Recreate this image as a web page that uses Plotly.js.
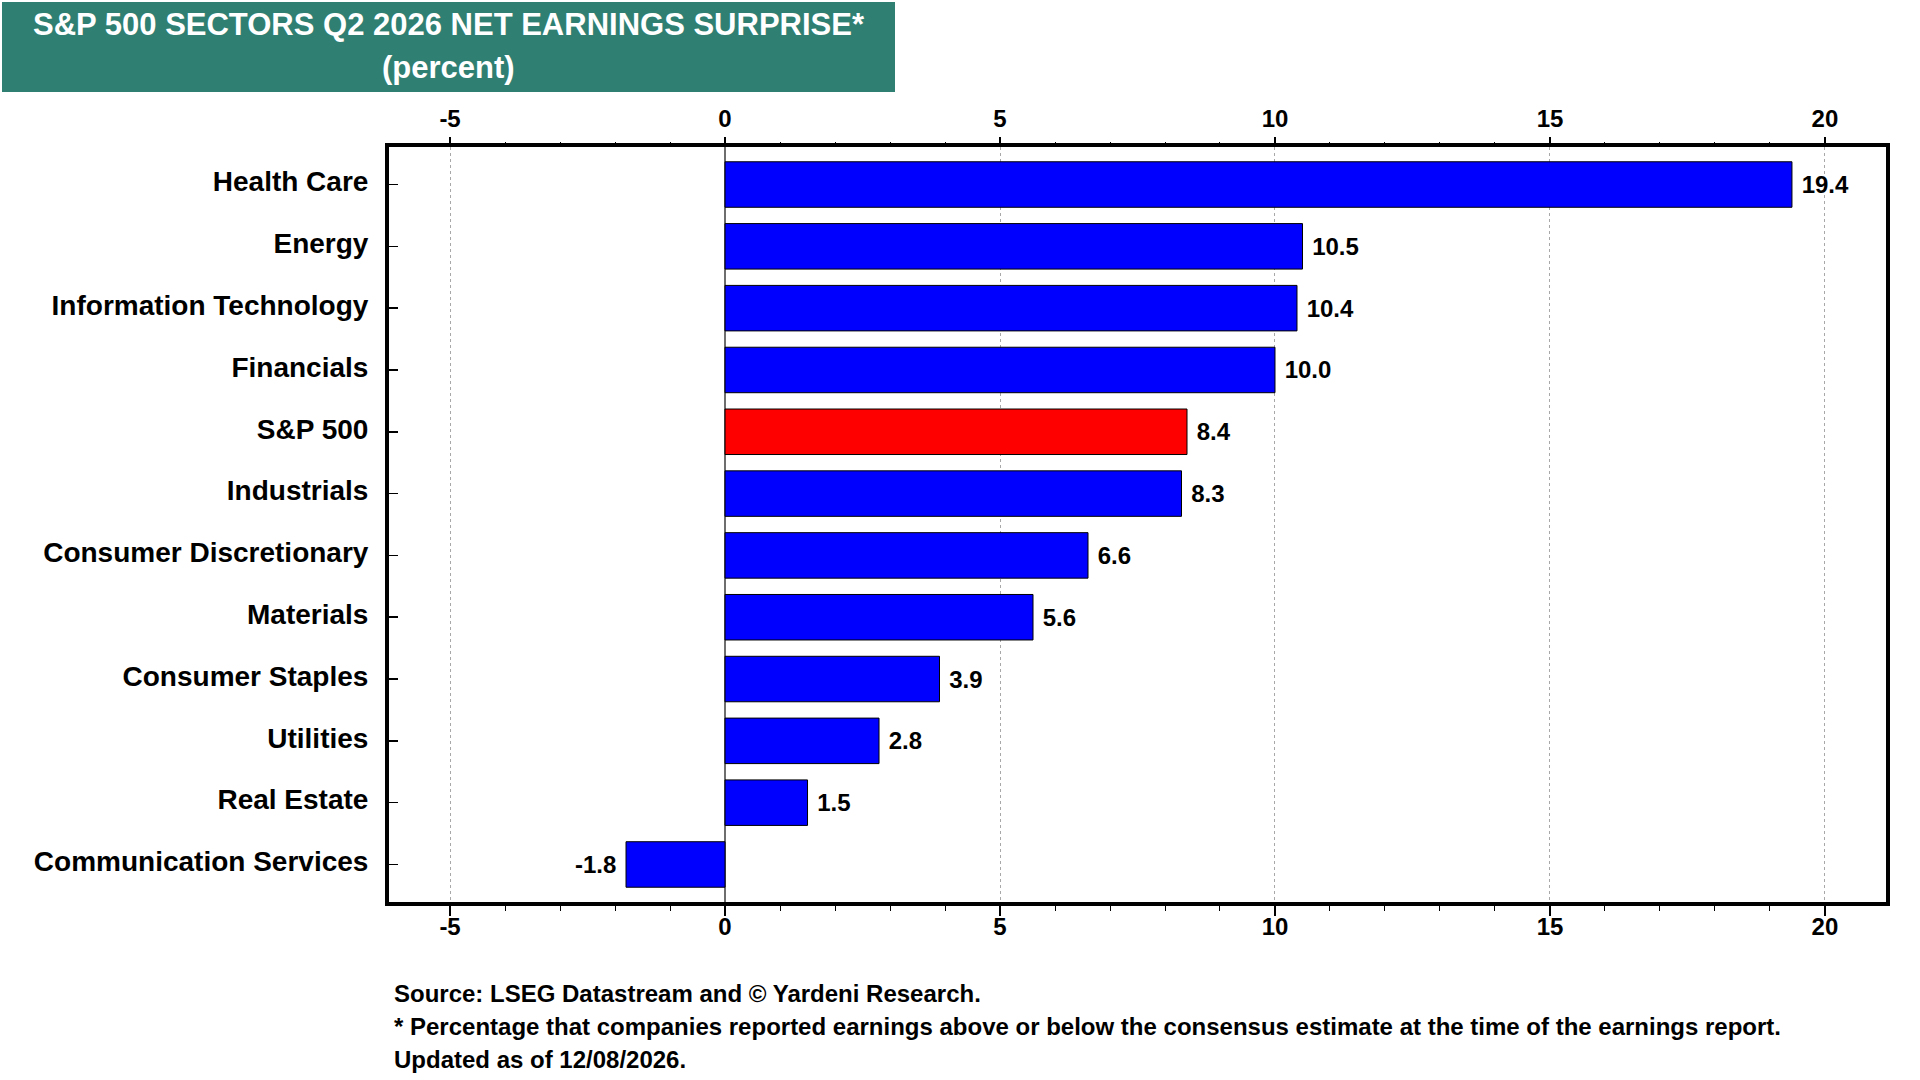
<!DOCTYPE html>
<html>
<head>
<meta charset="utf-8">
<script src="https://cdn.plot.ly/plotly-3.0.1.min.js"></script>
<style>
  html, body { margin: 0; padding: 0; background: #ffffff; }
  #chart { width: 1920px; height: 1080px; }
</style>
</head>
<body>
<div id="chart"></div>
<script>
const sectors = [
  "Health Care",
  "Energy",
  "Information Technology",
  "Financials",
  "S&P 500",
  "Industrials",
  "Consumer Discretionary",
  "Materials",
  "Consumer Staples",
  "Utilities",
  "Real Estate",
  "Communication Services"
];
const surprise = [19.4, 10.5, 10.4, 10.0, 8.4, 8.3, 6.6, 5.6, 3.9, 2.8, 1.5, -1.8];
const xTicks = [-5, 0, 5, 10, 15, 20];
const xMinorTicks = [-4, -3, -2, -1, 1, 2, 3, 4, 6, 7, 8, 9, 11, 12, 13, 14, 16, 17, 18, 19];
const titleLine1 = "S&P 500 SECTORS Q2 2026 NET EARNINGS SURPRISE*";
const titleLine2 = "(percent)";
const footnotes = [
  "Source: LSEG Datastream and \u00A9 Yardeni Research.",
  "* Percentage that companies reported earnings above or below the consensus estimate at the time of the earnings report.",
  "Updated as of 12/08/2026."
];

const FONT = "Liberation Sans, Arial, Helvetica, sans-serif";
const barColors = sectors.map(s => s === "S&P 500" ? "#FF0000" : "#0000FF");
const labels = surprise.map(v => v < 0 ? v.toFixed(1) + "\u00A0" : "\u00A0" + v.toFixed(1));

const xRange = [-6.11, 21.11];

const trace = {
  type: "bar",
  orientation: "h",
  y: sectors,
  x: surprise,
  width: 0.736,
  marker: { color: barColors, line: { color: "#000000", width: 1 } },
  text: labels,
  textposition: "outside",
  cliponaxis: false,
  textfont: { family: FONT, size: 24, color: "#000000", weight: "bold" },
  hoverinfo: "skip"
};

const axisTickFont = { family: FONT, size: 24, color: "#000000", weight: "bold" };

const layout = {
  width: 1920,
  height: 1080,
  paper_bgcolor: "#ffffff",
  plot_bgcolor: "#ffffff",
  margin: { l: 389, r: 34, t: 147, b: 178 },
  showlegend: false,
  xaxis: {
    range: xRange,
    tickvals: xTicks,
    ticktext: xTicks.map(String),
    side: "bottom",
    ticks: "outside",
    ticklen: 10,
    tickwidth: 2,
    tickcolor: "#000000",
    tickfont: axisTickFont,
    ticklabelstandoff: -10,
    showgrid: true,
    gridcolor: "#A8A8A8",
    gridwidth: 1,
    griddash: "dot",
    zeroline: true,
    zerolinecolor: "#6E6E6E",
    zerolinewidth: 1.5,
    showline: true,
    linecolor: "#000000",
    linewidth: 4,
    mirror: true,
    minor: { tickvals: xMinorTicks, ticks: "outside", ticklen: 5, tickwidth: 1, tickcolor: "#000000", showgrid: false },
    fixedrange: true
  },
  xaxis2: {
    range: xRange,
    overlaying: "x",
    side: "top",
    tickvals: xTicks,
    ticktext: xTicks.map(String),
    ticks: "outside",
    ticklen: 9,
    tickwidth: 2,
    tickcolor: "#000000",
    tickfont: axisTickFont,
    showgrid: false,
    zeroline: false,
    showline: false,
    minor: { tickvals: xMinorTicks, ticks: "outside", ticklen: 4, tickwidth: 1, tickcolor: "#000000", showgrid: false },
    fixedrange: true
  },
  yaxis: {
    type: "category",
    categoryorder: "array",
    categoryarray: sectors,
    range: [11.607, -0.607],
    ticks: "inside",
    ticklen: 9,
    tickwidth: 1.5,
    tickcolor: "#000000",
    tickfont: { family: FONT, size: 28, color: "#000000", weight: "bold" },
    ticklabelstandoff: 11,
    ticklabelshift: 3,
    showgrid: false,
    zeroline: false,
    showline: true,
    linecolor: "#000000",
    linewidth: 4,
    mirror: true,
    fixedrange: true
  },
  shapes: [
    {
      type: "rect", xref: "paper", yref: "paper",
      x0: (2 - 389) / 1497, x1: (895 - 389) / 1497,
      y0: (902 - 92) / 755, y1: (902 - 2) / 755,
      fillcolor: "#2F7F73", line: { width: 0 }, layer: "below"
    }
  ],
  annotations: [
    {
      xref: "paper", yref: "paper",
      x: (448.5 - 389) / 1497, y: (902 - 25) / 755,
      xanchor: "center", yanchor: "middle",
      text: "<b>" + titleLine1.replace("&", "&amp;") + "</b>",
      showarrow: false,
      font: { family: FONT, size: 31, color: "#ffffff" }
    },
    {
      xref: "paper", yref: "paper",
      x: (448.5 - 389) / 1497, y: (902 - 68) / 755,
      xanchor: "center", yanchor: "middle",
      text: "<b>" + titleLine2 + "</b>",
      showarrow: false,
      font: { family: FONT, size: 31, color: "#ffffff" }
    }
  ].concat(footnotes.map((t, i) => ({
    xref: "paper", yref: "paper",
    x: (392 - 389) / 1497, y: (902 - (993 + i * 33)) / 755,
    xanchor: "left", yanchor: "middle",
    text: "<b>" + t + "</b>",
    showarrow: false,
    font: { family: FONT, size: 24, color: "#000000" }
  })))
};

const topAxisTrace = {
  type: "scatter",
  mode: "markers",
  x: [xRange[0]],
  y: [sectors[0]],
  xaxis: "x2",
  yaxis: "y",
  marker: { opacity: 0, size: 1 },
  hoverinfo: "skip",
  showlegend: false
};

Plotly.newPlot("chart", [trace, topAxisTrace], layout, { staticPlot: true, displayModeBar: false });
</script>
</body>
</html>
